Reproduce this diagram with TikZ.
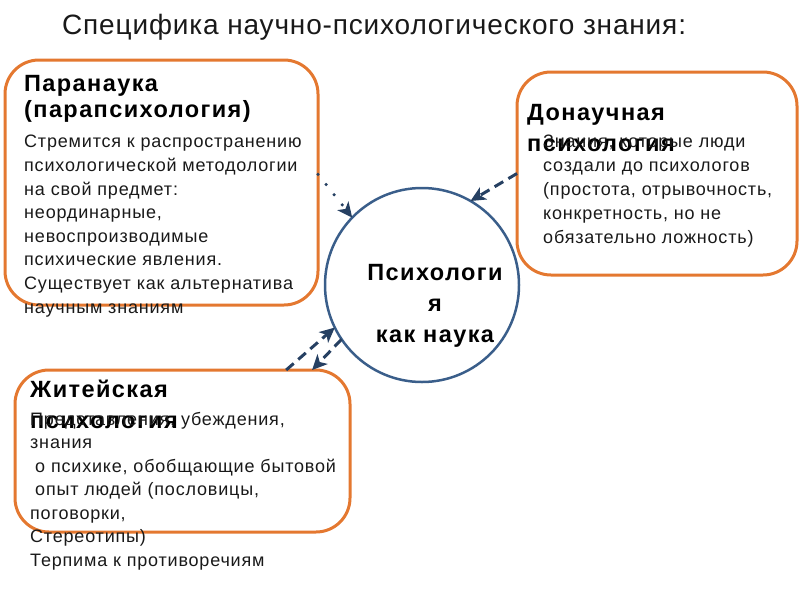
\documentclass[tikz,border=0pt]{standalone}
\usepackage{fontspec}
\setmainfont{Liberation Sans}
\newfontfamily\titlefont[LetterSpace=3]{Liberation Sans}
\newfontfamily\headfont[LetterSpace=6]{Liberation Sans}
\newfontfamily\bodyfont[LetterSpace=4.5]{Liberation Sans}
\usetikzlibrary{arrows.meta,positioning}
\definecolor{boxorange}{RGB}{228,120,48}
\definecolor{arrowblue}{RGB}{38,64,98}
\definecolor{circleblue}{RGB}{58,94,138}
\definecolor{textgray}{RGB}{25,25,25}

\begin{document}
\begin{tikzpicture}[x=1pt, y=-1pt,
    catbox/.style={draw=boxorange, line width=3pt, rounded corners=34pt, outer sep=0pt},
    headtext/.style={font=\headfont\fontsize{23.5}{#1}\selectfont\bfseries, anchor=base west, align=left, inner sep=0pt, text=black},
    bodytext/.style={font=\bodyfont\fontsize{18}{#1}\selectfont, anchor=base west, align=left, inner sep=0pt, text=textgray},
    link/.style={draw=arrowblue, line width=3pt, -{Stealth[length=15pt,width=14pt,inset=4pt]}},
    dashlink/.style={link, dash pattern=on 10pt off 6pt},
    dotlink/.style={link, line width=3.5pt, line cap=round, dash pattern=on 0pt off 13pt}
  ]
    \useasboundingbox (0,0) rectangle (800,600);

    \node[font=\titlefont\fontsize{28}{32}\selectfont, anchor=base west, inner sep=0pt, text=textgray] (title) at (62,34) {Специфика научно-психологического знания:};

    % boxes
    \node[catbox, minimum width=313pt, minimum height=245pt] (para) at (161.5,182.5) {};
    \node[catbox, minimum width=280pt, minimum height=203pt] (don) at (657,173.5) {};
    \node[catbox, minimum width=335pt, minimum height=162pt] (zhit) at (182.5,451) {};
    \node[draw=circleblue, line width=2.5pt, circle, minimum size=194pt, outer sep=0pt] (psy) at (422,285) {};

    % texts (anchored at the baseline of the last line)
    \node[headtext=26] (parahead) at (24,117) {Паранаука\\(парапсихология)};
    \node[bodytext=23.6] (parabody) at (24,313) {Стремится к распространению\\психологической методологии\\на свой предмет:\\неординарные,\\невоспроизводимые\\психические явления.\\Существует как альтернатива\\научным знаниям};

    \node[headtext=31] (donhead) at (527,151) {Донаучная\\психология};
    \node[bodytext=24] (donbody) at (543,243) {Знания, которые люди\\создали до психологов\\(простота, отрывочность,\\конкретность, но не\\обязательно ложность)};

    \node[headtext=31] (zhithead) at (30,428) {Житейская\\психология};
    \node[bodytext=23.5] (zhitbody) at (30,566) {Представления, убеждения,\\знания\\\hspace*{5pt}о психике, обобщающие бытовой\\\hspace*{5pt}опыт людей (пословицы,\\поговорки,\\Стереотипы)\\Терпима к противоречиям};

    \node[font=\headfont\fontsize{23.5}{31}\selectfont\bfseries, anchor=base, align=center, inner sep=0pt] (psylabel) at (435,342) {Психологи\\я\\ как наука};

    % connectors
    \draw[dotlink] (para.3) -- (psy.136);
    \draw[dashlink] (don.west) -- (psy.60);
    \draw[dashlink] (zhit.38) -- (psy.206);
    \draw[dashlink] (psy.214) -- (zhit.32);
  \end{tikzpicture}
\end{document}
